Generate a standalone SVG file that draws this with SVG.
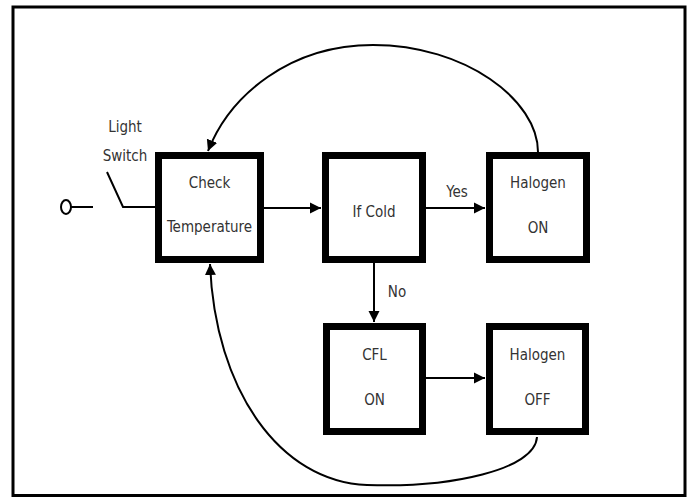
<svg xmlns="http://www.w3.org/2000/svg" width="689" height="497" viewBox="0 0 689 497">
<defs>
<marker id="arr" markerUnits="userSpaceOnUse" markerWidth="12" markerHeight="12" refX="11" refY="6" orient="auto">
<path d="M0,0.5 L11,6 L0,11.5 z" fill="#000"/>
</marker>
<style>
.box{fill:#fff;stroke:#000;stroke-width:7}
.lbl{font-family:"Liberation Sans Narrow","DejaVu Sans Condensed","Liberation Sans",sans-serif;font-size:15px;fill:#333;text-anchor:middle}
.ln{fill:none;stroke:#000;stroke-width:2}
</style>
</defs>
<rect x="0" y="0" width="689" height="497" fill="#fff"/>
<rect x="13" y="7" width="672" height="488.5" fill="none" stroke="#000" stroke-width="3"/>
<g id="connectors">
<ellipse cx="66" cy="207" rx="5" ry="7" fill="#fff" stroke="#000" stroke-width="2"/>
<path class="ln" d="M71 207 H93"/>
<path class="ln" d="M107 172 L123 207 H156"/>
<path class="ln" d="M264 208 H321" marker-end="url(#arr)"/>
<path class="ln" d="M426 208 H485" marker-end="url(#arr)"/>
<path class="ln" d="M374 263 V322" marker-end="url(#arr)"/>
<path class="ln" d="M426 378 H485" marker-end="url(#arr)"/>
<path class="ln" d="M538 152 C538 100, 465 45, 373 45 C290 45, 230 95, 208 151" marker-end="url(#arr)"/>
<path class="ln" d="M537 437 C535 470, 450 488, 367 485 C280 482, 215 390, 210 264" marker-end="url(#arr)"/>
<text class="lbl" x="125" y="132">Light</text>
<text class="lbl" x="125" y="161">Switch</text>
<text class="lbl" x="457" y="197">Yes</text>
<text class="lbl" x="397" y="297">No</text>
</g>
<g id="check">
<rect class="box" x="158.5" y="155.5" width="102" height="104"/>
<text class="lbl" x="209.5" y="188">Check</text>
<text class="lbl" x="209.5" y="232">Temperature</text>
</g>
<g id="ifcold">
<rect class="box" x="325.5" y="155.5" width="97" height="104"/>
<text class="lbl" x="374" y="217">If Cold</text>
</g>
<g id="halogen-on">
<rect class="box" x="489.5" y="155.5" width="97" height="104"/>
<text class="lbl" x="538" y="188">Halogen</text>
<text class="lbl" x="538" y="233">ON</text>
</g>
<g id="cfl-on">
<rect class="box" x="326.5" y="326.5" width="96" height="105"/>
<text class="lbl" x="374.5" y="360">CFL</text>
<text class="lbl" x="374.5" y="405">ON</text>
</g>
<g id="halogen-off">
<rect class="box" x="489.5" y="326.5" width="96" height="105"/>
<text class="lbl" x="537.5" y="360">Halogen</text>
<text class="lbl" x="537.5" y="405">OFF</text>
</g>
</svg>
